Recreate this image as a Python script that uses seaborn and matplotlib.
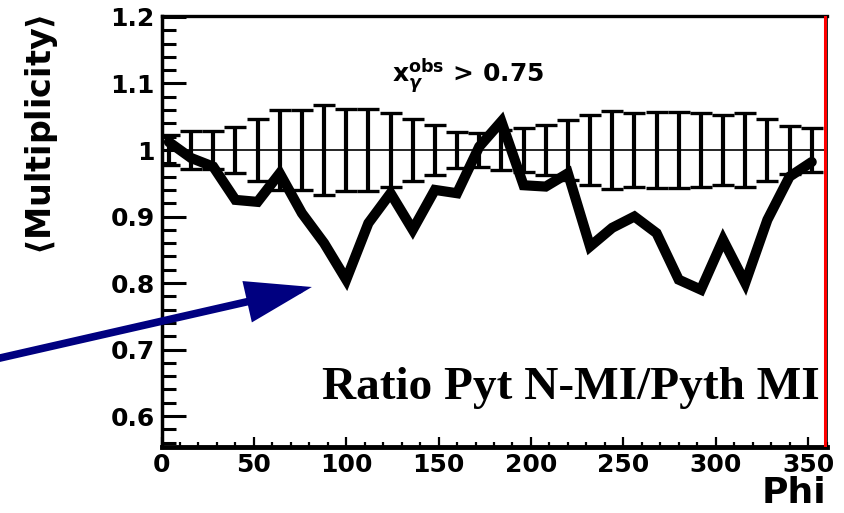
import matplotlib
matplotlib.use("Agg")
import matplotlib.pyplot as plt
import seaborn as sns
import pandas as pd
from matplotlib.ticker import MultipleLocator, FixedLocator, FixedFormatter

# ---- data ----
phi = [4, 16, 28, 40, 52, 64, 76, 88, 100, 112, 124, 136, 148, 160, 172,
       184, 196, 208, 220, 232, 244, 256, 268, 280, 292, 304, 316, 328, 340, 352]
ratio = [1.012, 0.988, 0.975, 0.925, 0.922, 0.965, 0.905, 0.860, 0.805, 0.890,
         0.935, 0.880, 0.940, 0.935, 1.005, 1.043, 0.947, 0.945, 0.965, 0.855,
         0.883, 0.900, 0.875, 0.805, 0.790, 0.865, 0.800, 0.895, 0.960, 0.982]
band_center = [1.0, 1.0, 1.0, 1.0, 1.0, 1.0, 1.0, 1.0, 1.0, 1.0,
               1.0, 1.0, 1.0, 1.0, 1.0, 1.0, 1.0, 1.0, 1.0, 1.0,
               1.0, 1.0, 1.0, 1.0, 1.0, 1.0, 1.0, 1.0, 1.0, 1.0]
band_err = [0.023, 0.029, 0.029, 0.035, 0.046, 0.060, 0.060, 0.068, 0.062, 0.062,
            0.055, 0.047, 0.038, 0.027, 0.025, 0.030, 0.033, 0.038, 0.045, 0.052,
            0.058, 0.055, 0.057, 0.057, 0.055, 0.052, 0.055, 0.047, 0.036, 0.033]
yticks = [0.6, 0.7, 0.8, 0.9, 1.0, 1.1, 1.2]
ytick_labels = ["0.6", "0.7", "0.8", "0.9", "1", "1.1", "1.2"]
xticks = [0, 50, 100, 150, 200, 250, 300, 350]

df = pd.DataFrame({"Phi": phi, "Ratio": ratio})

sns.set_style("white")
plt.rcParams["font.family"] = ["DejaVu Sans"]
plt.rcParams["font.weight"] = "bold"
plt.rcParams["mathtext.fontset"] = "dejavusans"
plt.rcParams["text.color"] = "black"
plt.rcParams["axes.labelcolor"] = "black"
plt.rcParams["xtick.color"] = "black"
plt.rcParams["ytick.color"] = "black"

W, H = 844, 513
fig = plt.figure(figsize=(W / 100, H / 100), dpi=100)
ax = fig.add_axes([161.5 / W, (H - 447) / H, 665 / W, 431 / H])

# reference line at 1 and error band bars
ax.axhline(1.0, color="black", lw=1.2, zorder=2)
ax.errorbar(phi, band_center, yerr=band_err, fmt="none", ecolor="black",
            elinewidth=3.0, capsize=8, capthick=2.4, zorder=3)

# thick ratio curve
sns.lineplot(data=df, x="Phi", y="Ratio", ax=ax, color="black", lw=7.3,
             zorder=4, sort=False)
for ln in ax.lines:
    ln.set_solid_joinstyle("miter")

# red right edge line
ax.axvline(359.0, color="red", lw=2.2, zorder=5)

ax.set_xlim(0, 360)
ax.set_ylim(0.5534, 1.2015)

ax.xaxis.set_major_locator(FixedLocator(xticks))
ax.xaxis.set_minor_locator(MultipleLocator(10))
ax.yaxis.set_major_locator(FixedLocator(yticks))
ax.yaxis.set_major_formatter(FixedFormatter(ytick_labels))
ax.yaxis.set_minor_locator(MultipleLocator(0.02))

ax.tick_params(axis="y", which="major", direction="in", length=17, width=2.2,
               labelsize=18, pad=5, left=True, right=False, colors="black")
ax.tick_params(axis="y", which="minor", direction="in", length=10, width=2.2,
               left=True, right=False, colors="black")
ax.tick_params(axis="x", which="major", direction="in", length=7, width=1.6,
               labelsize=18, pad=4, bottom=True, top=False, colors="black")
ax.tick_params(axis="x", which="minor", direction="in", length=3.6, width=1.6,
               bottom=True, top=False, colors="black")

for lbl in ax.get_xticklabels() + ax.get_yticklabels():
    lbl.set_fontweight("bold")
    lbl.set_color("black")

ax.spines["left"].set_linewidth(2.5)
ax.spines["bottom"].set_linewidth(3.5)
ax.spines["top"].set_linewidth(2.4)
ax.spines["right"].set_linewidth(1.2)
for s in ax.spines.values():
    s.set_color("black")

ax.set_xlabel("")
ax.set_ylabel("")

# texts
ax.text(124.7, 1.102, r"$\mathbf{x}_{\gamma}^{\mathbf{obs}}$ > 0.75",
        fontsize=18, fontweight="bold", ha="left", va="baseline", zorder=6,
        color="black")
ax.text(356.3, 0.6256, "Ratio Pyt N-MI/Pyth MI", ha="right", va="baseline",
        fontsize=34, fontweight="bold", family=["Liberation Serif", "DejaVu Serif"],
        zorder=6, color="black")

fig.text(42 / W, 1 - 135 / H, r"$\langle$Multiplicity$\rangle$", rotation=90,
         ha="center", va="center", fontsize=24, fontweight="bold", color="black")
fig.text(826 / W, 1 - 503 / H, "Phi", ha="right", va="baseline",
         fontsize=26, fontweight="bold", color="black")

# navy arrow coming from the left edge
ax.annotate("", xy=(81.4, 0.794), xycoords="data",
            xytext=(-10, 152.7), textcoords="figure pixels",
            arrowprops=dict(arrowstyle="-|>,head_length=3.6,head_width=1.15",
                            mutation_scale=10, lw=5.5, color="#000080",
                            shrinkA=0, shrinkB=0, joinstyle="miter"),
            annotation_clip=False, zorder=7)

fig.savefig("out.png", dpi=100)
